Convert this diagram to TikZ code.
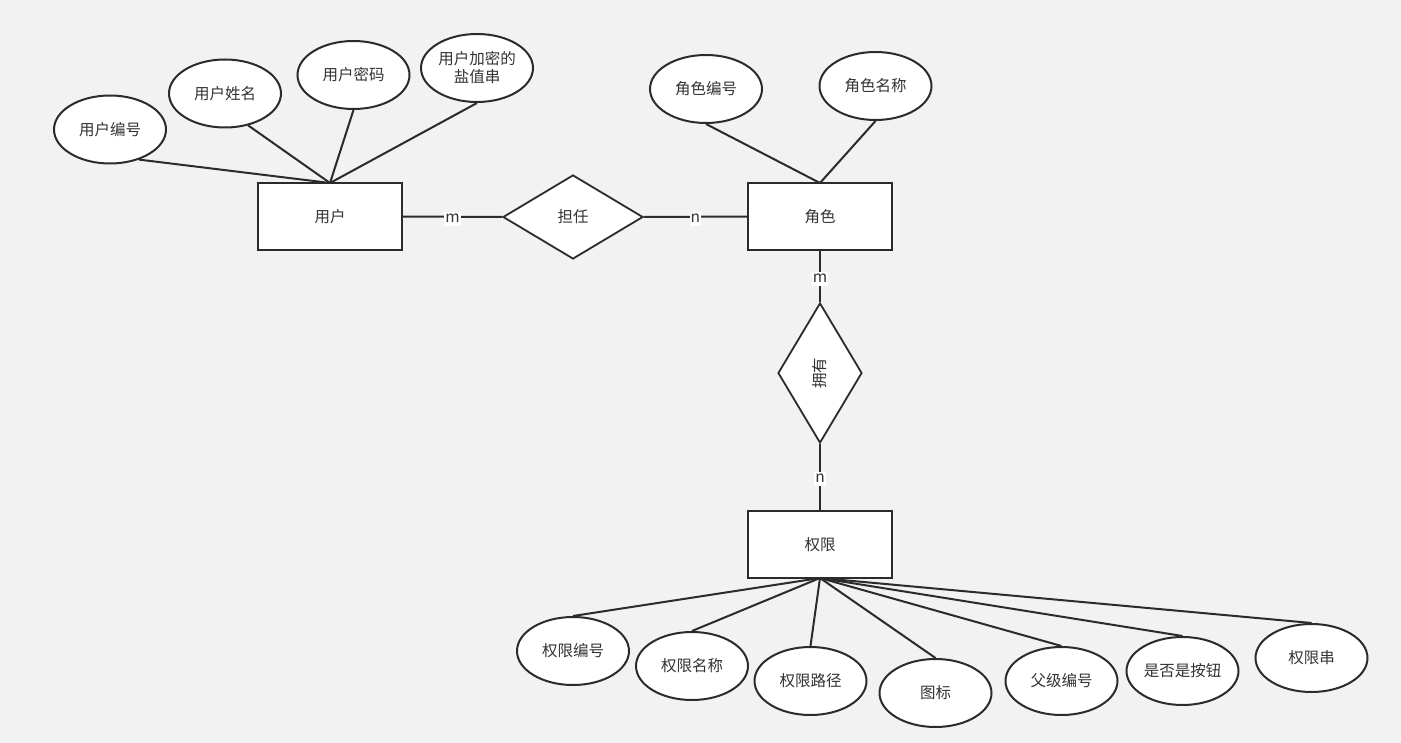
\documentclass[tikz,border=0pt]{standalone}
\usepackage{fontspec}
\setmainfont{Noto Sans CJK SC}
\usetikzlibrary{shapes.geometric}
\definecolor{bgcol}{HTML}{F2F2F2}
\definecolor{linecol}{HTML}{2B2B2B}
\definecolor{textcol}{HTML}{333333}

\begin{document}
\begin{tikzpicture}[
x=1pt,
y=-1pt,
entity/.style={
	rectangle,
	draw=linecol,
	line width=2pt,
	fill=white,
	minimum width=144pt,
	minimum height=67pt
},
relation/.style={
	diamond,
	draw=linecol,
	line width=1.8pt,
	fill=white,
	inner sep=0pt,
	minimum width=140pt,
	minimum height=84pt
},
attr/.style={
	ellipse,
	draw=linecol,
	line width=2pt,
	fill=white,
	inner sep=0pt,
	align=center,
	minimum width=112pt,
	minimum height=68pt
},
card/.style={
	fill=white,
	inner sep=1pt,
	text height=9pt,
	text depth=3pt,
	yshift=-2.5pt
},
link/.style={
	draw=linecol,
	line width=2pt
},
every node/.style={font=\fontsize{15.5}{18}\selectfont, text=textcol}
]

\useasboundingbox (0,0) rectangle (1401,743);
\fill[bgcol] (0,0) rectangle (1401,743);

% Attribute links (drawn first, below the shapes)
\coordinate (UserTop) at (330,183);
\coordinate (RoleTop) at (820,183);
\coordinate (PermBot) at (820,578);

% Entities
\node [entity] (User) at (330,216.5) {用户};
\node [entity] (Role) at (820,216.5) {角色};
\node [entity] (Perm) at (820,544.5) {权限};

% Relations
\node [relation] (Serve) at (573,217) {担任};
\node [relation, rotate=90] (Own) at (820,373) {拥有};

% User attributes
\node [attr] (UserId) at (110,129.5) {用户编号};
\node [attr] (UserName) at (225,93.5) {用户姓名};
\node [attr] (UserPwd) at (353.5,75) {用户密码};
\node [attr] (UserSalt) at (477,68) {用户加密的\\盐值串};

% Role attributes
\node [attr] (RoleId) at (706,89) {角色编号};
\node [attr] (RoleName) at (875.5,86) {角色名称};

% Permission attributes
\node [attr] (PermId) at (573,651) {权限编号};
\node [attr] (PermName) at (692,666) {权限名称};
\node [attr] (PermPath) at (810.5,681) {权限路径};
\node [attr] (PermIcon) at (935.5,693) {图标};
\node [attr] (PermParent) at (1061.5,681) {父级编号};
\node [attr] (PermButton) at (1182.5,671) {是否是按钮};
\node [attr] (PermCode) at (1311.5,658) {权限串};

% Links
\draw [link] (UserTop) -- (UserId.-46);
\draw [link] (UserTop) -- (UserName.-54);
\draw [link] (UserTop) -- (UserPwd.south);
\draw [link] (UserTop) -- (UserSalt.south);
\draw [link] (RoleTop) -- (RoleId.south);
\draw [link] (RoleTop) -- (RoleName.south);
\foreach \a in {PermId, PermName, PermPath, PermIcon, PermParent, PermButton, PermCode}
	\draw [link] (PermBot) -- (\a.north);

% Relation links with cardinalities
\draw [link] (User) -- node [card] {m} (Serve);
\draw [link] (Serve) -- node [card] {n} (Role);
\draw [link] (Role) -- node [card] {m} (Own);
\draw [link] (Own) -- node [card] {n} (Perm);

\end{tikzpicture}
\end{document}
